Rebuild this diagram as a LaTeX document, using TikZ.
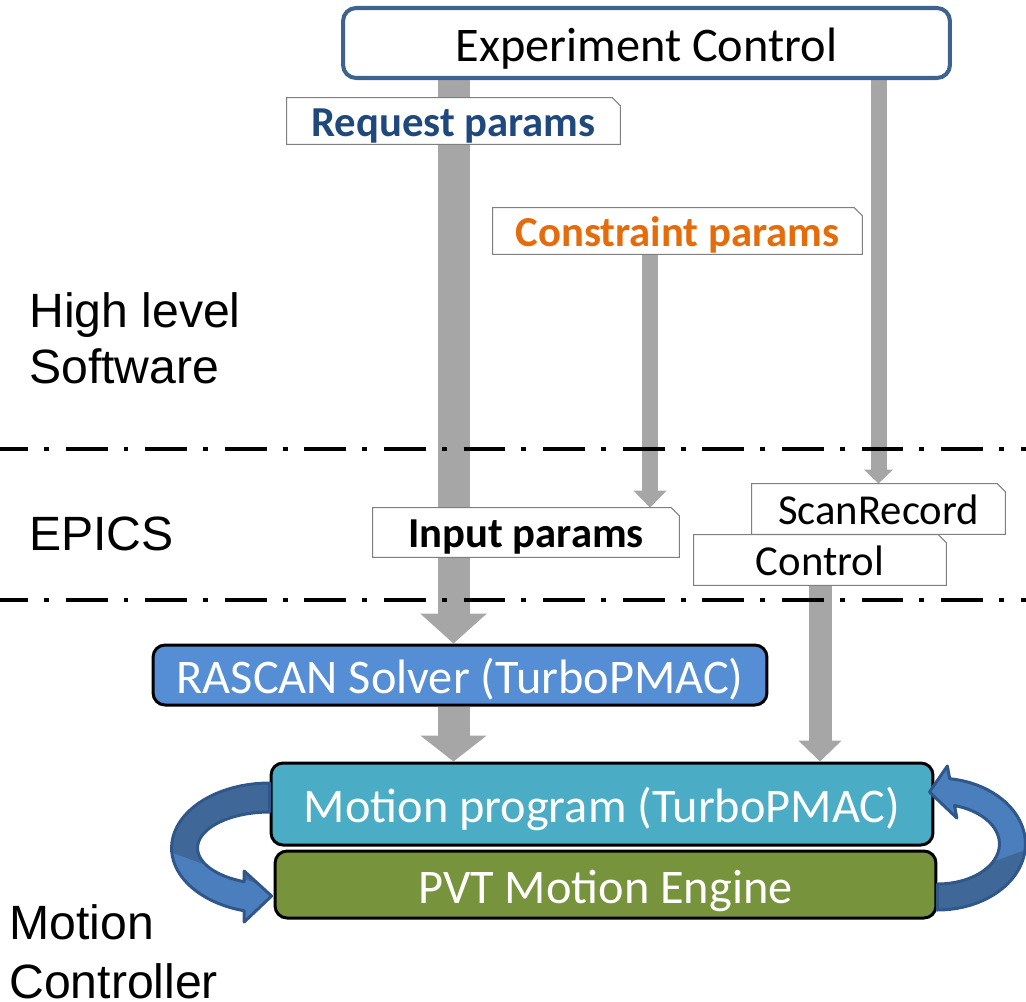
\documentclass[tikz,border=0pt]{standalone}
\usepackage{fontspec}
\setmainfont{Carlito}
\newfontfamily\arialfont{Liberation Sans}
\usetikzlibrary{arrows.meta,backgrounds,calc}

\definecolor{expborder}{HTML}{3F6391}
\definecolor{arrowgray}{HTML}{A6A6A6}
\definecolor{reqblue}{HTML}{1F497D}
\definecolor{conorange}{HTML}{E46C0A}
\definecolor{solverblue}{HTML}{558ED5}
\definecolor{motioncyan}{HTML}{4BACC6}
\definecolor{pvtgreen}{HTML}{77933C}
\definecolor{loopedge}{HTML}{30578A}
\definecolor{loopdark}{HTML}{3F6797}
\definecolor{looplight}{HTML}{4B7EBC}
\definecolor{taggray}{HTML}{7F7F7F}

\tikzset{
  expbox/.style={rectangle, rounded corners=0.26cm, draw=expborder, line width=2.3pt, fill=white,
    inner sep=0pt, text height=0.74cm, text depth=0pt, font=\fontsize{27.5}{32}\selectfont},
  mainbox/.style={rectangle, rounded corners=0.24cm, draw=black, line width=1.7pt, text=white,
    inner sep=0pt, text height=0.74cm, text depth=0pt, font=\fontsize{27.5}{32}\selectfont},
  tag/.style={rectangle, inner sep=0pt, text height=0.6cm, text depth=0pt, font=\fontsize{24.3}{28}\selectfont},
  tagframe/.style={draw=taggray, fill=white, line width=0.6pt},
  sidetext/.style={inner sep=0pt, align=left, font=\arialfont\fontsize{27.4}{32.3}\selectfont},
  sepline/.style={line width=2.3pt, dash pattern=on 23.8pt off 9.1pt on 2.8pt off 9.6pt, dash phase=7.9pt},
  flow/.style n args={3}{draw=arrowgray, line width=#1, -{Triangle[width=#2, length=#3]}},
  loopline/.style={draw=loopedge, line width=1.7pt, fill=looplight, line join=round}
}

\begin{document}
\begin{tikzpicture}[x=0.02cm, y=-0.02cm]
%\draw [lightgray, ultra thin] (0,0) grid [step=50] (1026,1001);
\useasboundingbox (0,0) rectangle (1026,1001);

\node [expbox, minimum width=12.14cm, minimum height=1.4cm] (exp) at (646.5,43) {Experiment Control};

\node [tag, text=reqblue, minimum width=6.66cm, minimum height=0.92cm] (req) at (453.5,121) {\bfseries Request params};
\node [tag, text=conorange, minimum width=7.38cm, minimum height=0.92cm] (con) at (677.5,231) {\bfseries Constraint params};
\node [tag, minimum width=6.12cm, minimum height=0.98cm] (inp) at (526,532.5) {\bfseries Input params};
\node [tag, minimum width=5.06cm, minimum height=1cm] (scan) at (878.5,509) {ScanRecord};
\node [tag, minimum width=5.04cm, minimum height=1cm] (ctrl) at (820,560) {Control};

\node [mainbox, fill=solverblue, minimum width=12.28cm, minimum height=1.2cm] (rascan) at (460,675) {RASCAN Solver (TurboPMAC)};
\node [mainbox, fill=motioncyan, minimum width=13.24cm, minimum height=1.64cm] (motion) at (602,804) {Motion program (TurboPMAC)};
\node [mainbox, fill=pvtgreen, minimum width=13.22cm, minimum height=1.34cm] (pvt) at (605.5,884.5) {PVT Motion Engine};

\node [sidetext, anchor=north west] (hls) at (29,292) {High level\\Software};
\node [sidetext, anchor=base west] (epics) at (29,550) {EPICS};
\node [sidetext, anchor=north west, font=\arialfont\fontsize{27.4}{33.5}\selectfont] (mc) at (9,904) {Motion\\Controller};

\coordinate (conx) at (650,0);
\coordinate (gapmid) at ($(motion.south)!0.5!(pvt.north)$);

% gray flows and tag frames behind the texts
\begin{scope}[on background layer]
\draw [flow={0.64cm}{1.3cm}{0.6cm}] (exp.south -| req) -- (rascan.north -| req);
\draw [flow={0.64cm}{1.3cm}{0.52cm}] (rascan.south -| req) -- (motion.north -| req);
\draw [flow={0.32cm}{0.64cm}{0.34cm}] (con.south -| conx) -- (inp.north -| conx);
\draw [flow={0.32cm}{0.56cm}{0.28cm}] (exp.south -| scan) -- (scan.north);
\draw [flow={0.46cm}{0.84cm}{0.42cm}] (ctrl.south) -- (motion.north -| ctrl);
\foreach \n in {req,con,inp,scan,ctrl}
  \draw [tagframe] (\n.south west) -- (\n.north west) -- ([xshift=-0.16cm]\n.north east)
    -- ([yshift=-0.16cm]\n.north east) -- (\n.south east) -- cycle;
\end{scope}

% loop arrows
\begin{scope}[shift={(motion.west |- gapmid)}]
\draw [loopline, path picture={\fill [loopdark] (path picture bounding box.west) -- ++(110,40)
    |- (path picture bounding box.north west) -- cycle;}]
  plot [domain=90:255, samples=40] ({98*cos(\x)},{-65*sin(\x)})
  -- (-25.4,74) -- (2,48) -- (-25.4,23)
  -- plot [domain=249.3:90, samples=40] ({72*cos(\x)},{-36*sin(\x)}) -- cycle;
\end{scope}
\begin{scope}[shift={(pvt.east |- gapmid)}]
\draw [loopline, path picture={\fill [loopdark] (path picture bounding box.east) ++(0,12) -- ++(-110,40)
    |- (path picture bounding box.south east) -- cycle;}]
  plot [domain=-90:82, samples=40] ({88*cos(\x)},{-4-66*sin(\x)})
  -- (9.9,-82) -- (-8,-56) -- (19.4,-30)
  -- plot [domain=74:-90, samples=40] ({62*cos(\x)},{-4-40*sin(\x)}) -- cycle;
\end{scope}

\draw [sepline] (0,449) -- (1026,449);
\draw [sepline] (0,600) -- (1026,600);
\end{tikzpicture}
\end{document}
